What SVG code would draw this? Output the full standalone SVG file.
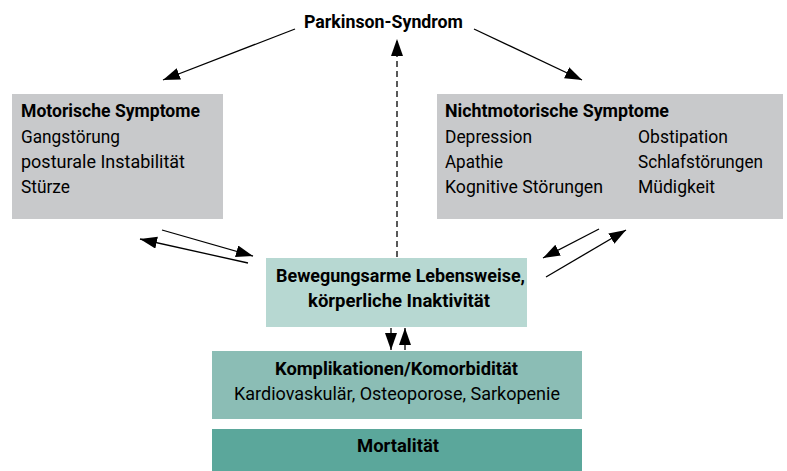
<svg xmlns="http://www.w3.org/2000/svg" width="787" height="471" viewBox="0 0 787 471">
<style>
text{font-family:Roboto,"Liberation Sans",sans-serif;font-size:18.5px;fill:#000;}
.b{font-weight:bold;}
.gray{fill:#c8c9cb;}
.t1{fill:#b7d8d2;}
.t2{fill:#8bbdb5;}
.t3{fill:#5ba79b;}
.c{stroke:#000;stroke-width:1.3;fill:none;marker-end:url(#ah);}
.d{stroke-dasharray:6,4;}
</style>
<defs>
<marker id="ah" markerUnits="userSpaceOnUse" markerWidth="20" markerHeight="14" refX="17" refY="6" orient="auto">
<path d="M0,0 L17,6 L0,12 z" fill="#000"/>
</marker>
</defs>
<rect width="787" height="471" fill="#fff"/>
<g id="parkinson">
<text class="b" x="304" y="28" textLength="159" lengthAdjust="spacingAndGlyphs">Parkinson-Syndrom</text>
</g>
<g id="motorisch">
<rect class="gray" x="12" y="94" width="211" height="125"/>
<text class="b" x="21" y="117" textLength="179" lengthAdjust="spacingAndGlyphs">Motorische Symptome</text>
<text x="21" y="143" textLength="99" lengthAdjust="spacingAndGlyphs">Gangstörung</text>
<text x="21" y="168" textLength="164" lengthAdjust="spacingAndGlyphs">posturale Instabilität</text>
<text x="21" y="193" textLength="49" lengthAdjust="spacingAndGlyphs">Stürze</text>
</g>
<g id="nichtmotorisch">
<rect class="gray" x="437" y="94" width="346" height="125"/>
<text class="b" x="445" y="117" textLength="224" lengthAdjust="spacingAndGlyphs">Nichtmotorische Symptome</text>
<text x="445" y="143" textLength="87" lengthAdjust="spacingAndGlyphs">Depression</text>
<text x="445" y="168" textLength="58" lengthAdjust="spacingAndGlyphs">Apathie</text>
<text x="445" y="193" textLength="158" lengthAdjust="spacingAndGlyphs">Kognitive Störungen</text>
<text x="638" y="143" textLength="90" lengthAdjust="spacingAndGlyphs">Obstipation</text>
<text x="638" y="168" textLength="125" lengthAdjust="spacingAndGlyphs">Schlafstörungen</text>
<text x="638" y="193" textLength="77" lengthAdjust="spacingAndGlyphs">Müdigkeit</text>
</g>
<g id="bewegung">
<rect class="t1" x="266" y="258" width="261" height="69"/>
<text class="b" x="276" y="282" textLength="249" lengthAdjust="spacingAndGlyphs">Bewegungsarme Lebensweise,</text>
<text class="b" x="308" y="307" textLength="182" lengthAdjust="spacingAndGlyphs">körperliche Inaktivität</text>
</g>
<g id="komplikationen">
<rect class="t2" x="212" y="351" width="370" height="68"/>
<text class="b" x="275" y="375" textLength="243" lengthAdjust="spacingAndGlyphs">Komplikationen/Komorbidität</text>
<text x="234" y="400" textLength="326" lengthAdjust="spacingAndGlyphs">Kardiovaskulär, Osteoporose, Sarkopenie</text>
</g>
<g id="mortalitaet">
<rect class="t3" x="212" y="429" width="370" height="42"/>
<text class="b" x="357" y="452" textLength="82" lengthAdjust="spacingAndGlyphs">Mortalität</text>
</g>
<g id="connectors">
<line class="c" x1="295" y1="29" x2="163" y2="80"/>
<line class="c" x1="474" y1="29" x2="582" y2="80"/>
<line class="c d" x1="397" y1="257" x2="397" y2="39"/>
<line class="c" x1="162" y1="230" x2="253" y2="256"/>
<line class="c" x1="248" y1="263" x2="140" y2="239"/>
<line class="c" x1="599" y1="229" x2="543" y2="258"/>
<line class="c" x1="546" y1="277" x2="626" y2="230"/>
<line class="c" x1="391" y1="328" x2="391" y2="350"/>
<line class="c" x1="405" y1="350" x2="405" y2="328"/>
</g>
</svg>
